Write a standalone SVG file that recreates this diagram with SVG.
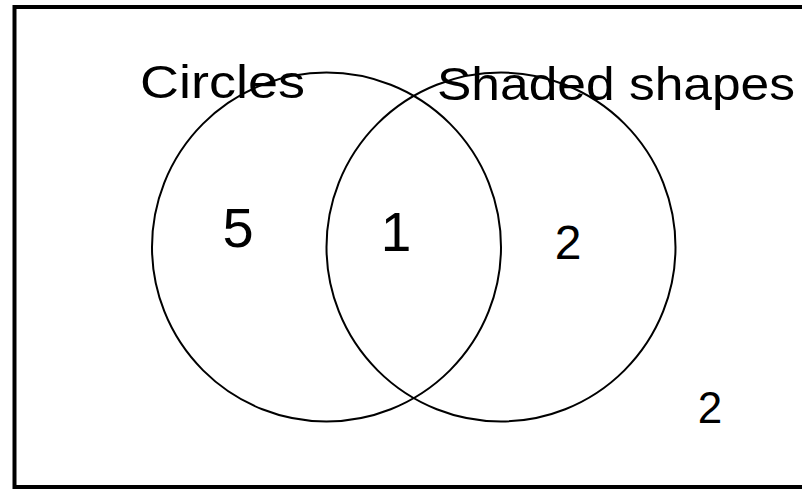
<svg xmlns="http://www.w3.org/2000/svg" width="802" height="489" viewBox="0 0 802 489">
  <style>
    .frame { fill: none; stroke: #000; stroke-width: 4; }
    .set { fill: none; stroke: #000; stroke-width: 2; }
    .lbl { font-family: "Liberation Sans", Arial, sans-serif; fill: #000; }
    .title { font-size: 47px; }
    .num { text-anchor: middle; }
  </style>
  <rect width="802" height="489" fill="#fff"/>
  <g id="frame">
    <path class="frame" d="M802,7 H14.5 V487 H802"/>
  </g>
  <g id="set-circles">
    <circle class="set" cx="326.5" cy="247" r="174.5"/>
    <text class="lbl title" x="140" y="98" textLength="165" lengthAdjust="spacingAndGlyphs">Circles</text>
  </g>
  <g id="set-shaded">
    <circle class="set" cx="501" cy="247" r="174.5"/>
    <text class="lbl title" x="437" y="100" textLength="358" lengthAdjust="spacingAndGlyphs">Shaded shapes</text>
  </g>
  <g id="region-circles-only">
    <text class="lbl num" x="238" y="247" font-size="56">5</text>
  </g>
  <g id="region-both">
    <text class="lbl num" x="396" y="251" font-size="55">1</text>
  </g>
  <g id="region-shaded-only">
    <text class="lbl num" x="568" y="259" font-size="48">2</text>
  </g>
  <g id="region-neither">
    <text class="lbl num" x="710" y="423" font-size="44">2</text>
  </g>
  <g id="connectors"></g>
</svg>
